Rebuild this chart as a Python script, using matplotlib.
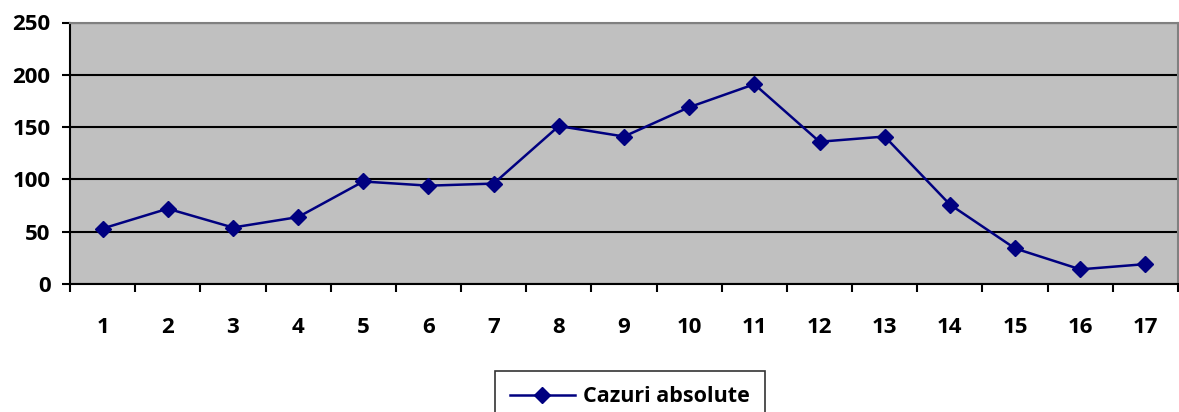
"""Line chart of absolute cases per category."""

import matplotlib.pyplot as plt
import numpy as np

CATEGORIES = [str(i) for i in range(1, 18)]
CAZURI = [53, 72, 54, 64, 98, 94, 96, 151, 141, 169, 191, 136, 141, 76, 34, 14, 19]
Y_TICKS = [0, 50, 100, 150, 200, 250]

NAVY = "#000080"
FONT_SIZE = 16

plt.rcParams["font.family"] = ["Open Sans", "DejaVu Sans"]
plt.rcParams["font.weight"] = "bold"

fig = plt.figure(figsize=(11.79, 4.12), dpi=100)
ax = fig.add_axes([70 / 1179, 1 - 284 / 412, 1108 / 1179, 261.5 / 412])
ax.set_facecolor("#c0c0c0")

x = np.arange(len(CATEGORIES))
line, = ax.plot(x, CAZURI, color=NAVY, lw=1.8, marker="D", ms=8.5,
                mfc=NAVY, mec=NAVY, zorder=3, label="Cazuri absolute")

ax.set_xlim(-0.5, len(CATEGORIES) - 0.5)
ax.set_ylim(0, 250)
ax.set_yticks(Y_TICKS)
ax.set_yticklabels([str(v) for v in Y_TICKS], fontsize=FONT_SIZE, fontweight="bold")
ax.set_xticks(x)
ax.set_xticklabels(CATEGORIES, fontsize=FONT_SIZE, fontweight="bold")
ax.tick_params(axis="x", length=0, pad=24)
ax.set_xticks(np.arange(-0.5, len(CATEGORIES)), minor=True)
ax.tick_params(axis="x", which="minor", length=6, width=1.5, direction="out")
ax.tick_params(axis="y", length=6, width=1.5, direction="out", pad=8)

ax.grid(axis="y", color="black", lw=1.5, zorder=1)
ax.set_axisbelow(True)

for side in ("left", "bottom"):
    ax.spines[side].set_color("black")
    ax.spines[side].set_linewidth(1.5)
for side in ("top", "right"):
    ax.spines[side].set_color("#808080")
    ax.spines[side].set_linewidth(1.5)

leg = fig.legend(handles=[line], loc="upper center",
                 bbox_to_anchor=(630 / 1179, 1 - 371 / 412),
                 frameon=True, fancybox=False, edgecolor="black",
                 prop={"size": 15.5, "weight": "bold"}, handlelength=3.0,
                 borderpad=0.7, handletextpad=0.4, borderaxespad=0)
leg.get_frame().set_linewidth(1.2)

fig.savefig("out.png", dpi=100)
